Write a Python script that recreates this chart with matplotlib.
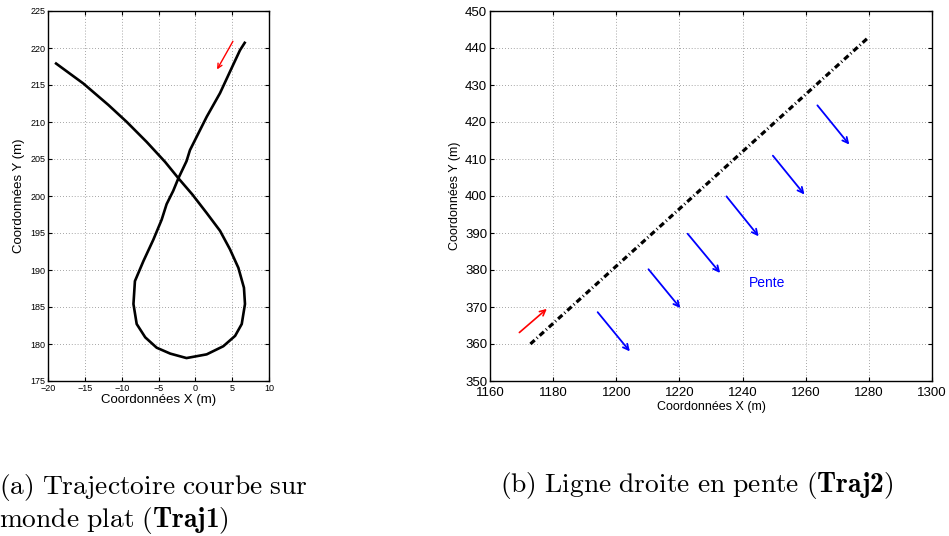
import matplotlib
matplotlib.use("Agg")
import matplotlib.pyplot as plt

plt.rcParams['font.family'] = ['Liberation Sans', 'DejaVu Sans']
plt.rcParams['mathtext.fontset'] = 'custom'
plt.rcParams['mathtext.rm'] = 'cmr10'
plt.rcParams['mathtext.bf'] = 'cmb10'
plt.rcParams['mathtext.it'] = 'cmmi10'

# ---- Traj1 (curved trajectory on flat world) ----
traj1_x = [-18.9, -15.2, -11.8, -9.3, -6.6, -4.1, -2.3, -0.4, 1.54, 3.35, 4.7, 5.84,
           6.6, 6.74, 6.3, 5.4, 3.8, 1.54, -1.2, -3.4, -5.25, -6.8, -7.96, -8.4, -8.2,
           -7.05, -5.7, -4.57, -3.9, -3.0, -2.3, -1.2, -0.73, 1.54, 3.35, 4.7, 6.06, 6.7]
traj1_y = [217.9, 215.2, 212.3, 210.0, 207.3, 204.6, 202.4, 200.2, 197.7, 195.3, 192.8,
           190.3, 187.6, 185.4, 182.7, 181.1, 179.7, 178.6, 178.1, 178.7, 179.5, 180.9,
           182.7, 185.4, 188.5, 191.2, 194.1, 196.8, 198.9, 200.7, 202.4, 204.7, 206.2,
           210.7, 213.9, 216.8, 219.7, 220.7]
traj1_dir_start = (5.1, 220.9)
traj1_dir_end = (2.95, 217.1)

# ---- Traj2 (straight line on slope) ----
traj2_x = [1172.8, 1279.4]
traj2_y = [360.0, 442.5]
traj2_dir_start = (1169.3, 363.1)
traj2_dir_end = (1178.0, 369.5)
slope_x0 = [1194.1, 1210.2, 1222.6, 1234.9, 1249.6, 1263.7]
slope_y0 = [368.6, 380.2, 389.8, 399.9, 410.9, 424.5]
slope_x1 = [1204.3, 1220.3, 1232.9, 1245.1, 1259.6, 1273.8]
slope_y1 = [358.0, 369.7, 379.2, 389.1, 400.4, 413.9]
slope_label = "Pente"
slope_label_pos = (1242.0, 376.5)

captions = [r"$\mathrm{(a)\ Trajectoire\ courbe\ sur}$",
            r"$\mathrm{monde\ plat\ (}\mathbf{Traj1}\mathrm{)}$",
            r"$\mathrm{(b)\ Ligne\ droite\ en\ pente\ (}\mathbf{Traj2}\mathrm{)}$"]

W, H = 949, 536
fig = plt.figure(figsize=(W / 100, H / 100), dpi=100)


def style(ax, fs):
    ax.grid(True, linestyle=(0, (1, 2.5)), color='#888888', linewidth=0.6)
    ax.tick_params(direction='in', top=True, right=True, labelsize=fs, length=3,
                   width=0.8, pad=2)
    for s in ax.spines.values():
        s.set_linewidth(1.0)
        s.set_color('black')


ax1 = fig.add_axes([48 / W, 1 - 381 / H, 221 / W, 370 / H])
ax1.plot(traj1_x, traj1_y, color='black', lw=1.9, solid_joinstyle='round')
ax1.annotate('', xy=traj1_dir_end, xytext=traj1_dir_start,
             arrowprops=dict(arrowstyle='->', color='red', lw=1.0, mutation_scale=8,
                             shrinkA=0, shrinkB=0))
ax1.set_xlim(-20, 10)
ax1.set_ylim(175, 225)
ax1.set_xticks(range(-20, 11, 5))
ax1.set_yticks(range(175, 226, 5))
style(ax1, 6.5)
ax1.set_xlabel('Coordonnées X (m)', fontsize=9.5, labelpad=1)
ax1.set_ylabel('Coordonnées Y (m)', fontsize=9.5, labelpad=4)

ax2 = fig.add_axes([490 / W, 1 - 381 / H, 442 / W, 370 / H])
ax2.plot(traj2_x, traj2_y, color='black', lw=2.3,
         linestyle=(0, (1.8, 0.9, 0.3, 0.9)))
ax2.annotate('', xy=traj2_dir_end, xytext=traj2_dir_start,
             arrowprops=dict(arrowstyle='->', color='red', lw=1.2, mutation_scale=10,
                             shrinkA=0, shrinkB=0))
for x0, y0, x1, y1 in zip(slope_x0, slope_y0, slope_x1, slope_y1):
    ax2.annotate('', xy=(x1, y1), xytext=(x0, y0),
                 arrowprops=dict(arrowstyle='->', color='blue', lw=1.3,
                                 mutation_scale=10, shrinkA=0, shrinkB=0))
ax2.text(slope_label_pos[0], slope_label_pos[1], slope_label, color='blue',
         fontsize=10, va='center', ha='left')
ax2.set_xlim(1160, 1300)
ax2.set_ylim(350, 450)
ax2.set_xticks(range(1160, 1301, 20))
ax2.set_yticks(range(350, 451, 10))
style(ax2, 9.5)
ax2.tick_params(axis='x', pad=4.5)
ax2.set_xlabel('Coordonnées X (m)', fontsize=9, labelpad=1.5)
ax2.set_ylabel('Coordonnées Y (m)', fontsize=9, labelpad=3)

fig.text(-1 / W, 1 - 494 / H, captions[0], fontsize=19.8, ha='left', va='baseline')
fig.text(-1 / W, 1 - 527 / H, captions[1], fontsize=19.8, ha='left', va='baseline')
fig.text(500 / W, 1 - 492 / H, captions[2], fontsize=19.8, ha='left', va='baseline')

fig.savefig('out.png', dpi=100)
